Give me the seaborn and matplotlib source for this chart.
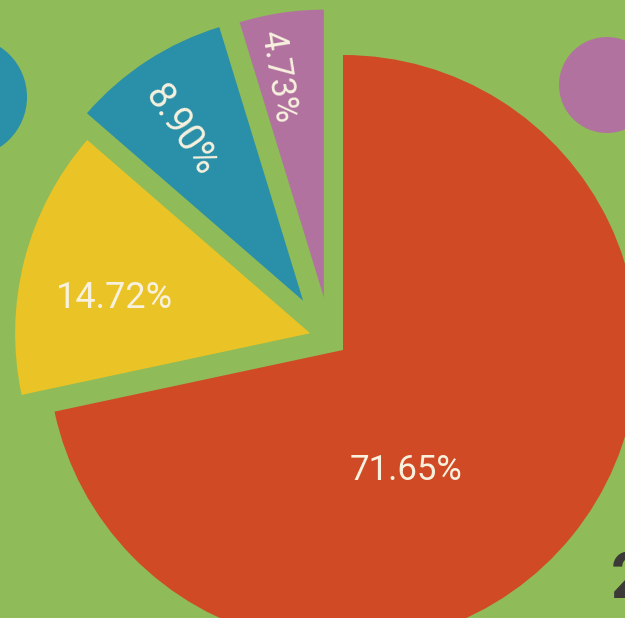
import numpy as np
import matplotlib
matplotlib.use("Agg")
import matplotlib.pyplot as plt
from matplotlib.patches import Circle
import seaborn as sns

# ---- data ----
categories = ["A", "B", "C", "D"]
shares = [71.65, 14.72, 8.90, 4.73]
labels = ["71.65%", "14.72%", "8.90%", "4.73%"]
colors = ["#d04a26", "#eac426", "#2a8fa8", "#b172a0"]

# ---- style ----
BG = "#8fbb58"
TXT = "#f7f1de"
sns.set_theme(style="white")
plt.rcParams["font.family"] = ["Roboto", "DejaVu Sans"]

W, H, DPI = 625, 618, 100
CX, CY, R = 343, 350, 295  # pie centre / radius in pixels


def px(x, y):
    return (x - CX) / R, (CY - y) / R


fig = plt.figure(figsize=(W / DPI, H / DPI), dpi=DPI, facecolor=BG)
ax = fig.add_axes([0, 0, 1, 1])
ax.set_facecolor(BG)

wedges, _ = ax.pie(shares, colors=colors, startangle=90, counterclock=False,
                   radius=1.0, wedgeprops=dict(linewidth=0))

# explode offsets (radius fraction, direction in degrees) and wedge radii
offsets = [(0.0, 0), (0.125, 153), (0.215, 129), (0.19, 110)]
radii = [1.0, 1.0, 0.97, 0.975]
for w, (d, a), rr in zip(wedges, offsets, radii):
    w.set_center((d * np.cos(np.radians(a)), d * np.sin(np.radians(a))))
    w.set_radius(rr)

# label placement (pixel positions) and rotation
label_pos = [(406, 470), (114, 298), (181, 131), (278, 77)]
label_rot = [0, 0, -56, -81]
label_size = [25, 26, 27, 25]
for lab, (x, y), rot, fs in zip(labels, label_pos, label_rot, label_size):
    tx, ty = px(x, y)
    ax.text(tx, ty, lab, color=TXT, fontsize=fs, rotation=rot,
            ha="center", va="center", rotation_mode="anchor")

# decorative circles of the infographic
cx1, cy1 = px(-33, 97)
ax.add_patch(Circle((cx1, cy1), 60 / R, color=colors[2], lw=0))
cx2, cy2 = px(607, 85)
ax.add_patch(Circle((cx2, cy2), 48 / R, color=colors[3], lw=0))

tx, ty = px(611, 598)
ax.text(tx, ty, "2", color="#3b3a36", fontsize=46, fontweight="bold",
        ha="left", va="baseline")

ax.set_xlim(px(0, 0)[0], px(W, 0)[0])
ax.set_ylim(px(0, H)[1], px(0, 0)[1])
ax.set_aspect("auto")
ax.axis("off")

fig.savefig("out.png", dpi=DPI, facecolor=BG)
